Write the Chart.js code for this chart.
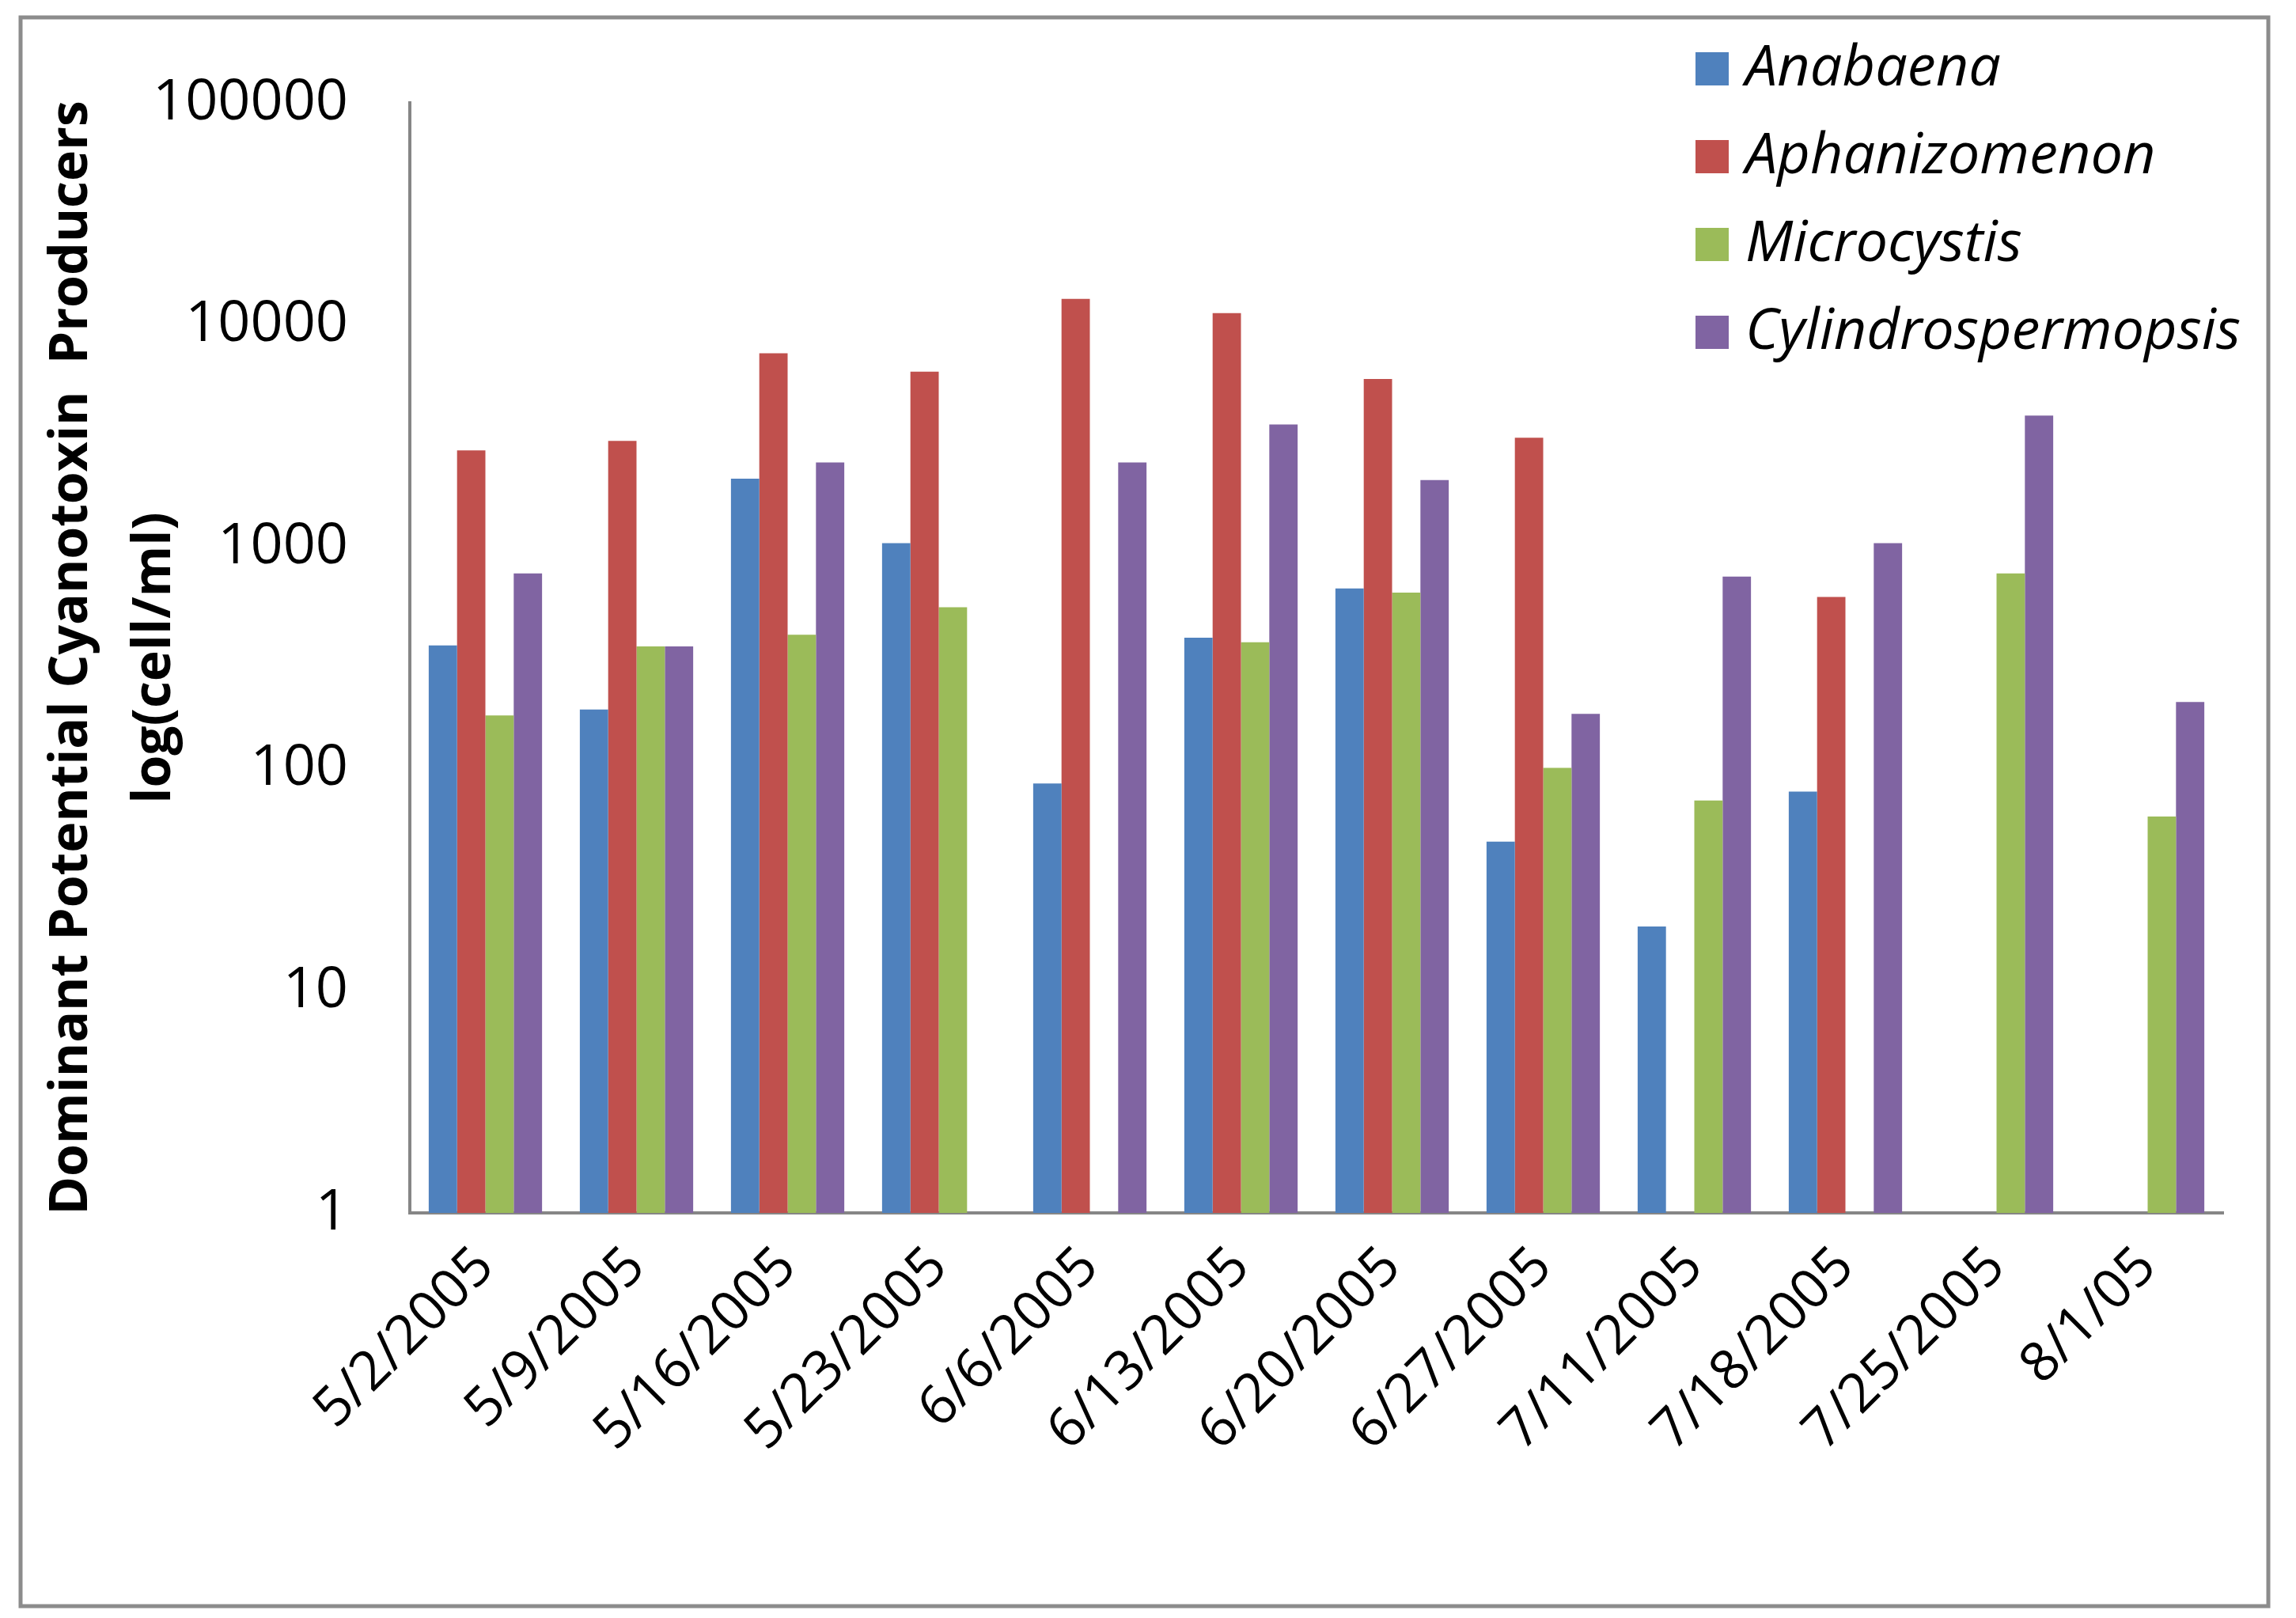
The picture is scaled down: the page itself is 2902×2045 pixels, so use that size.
<!DOCTYPE html>
<html>
<head>
<meta charset="utf-8">
<script src="https://cdn.jsdelivr.net/npm/chart.js@4.4.1/dist/chart.umd.min.js"></script>
<style>
  html, body { margin: 0; padding: 0; background: #fff; }
  #wrap { width: 2902px; height: 2045px; }
</style>
</head>
<body>
<div id="wrap"><canvas id="cyanoChart" width="2902" height="2045"></canvas></div>
<script>
// sampling dates
var dates = ['5/2/2005', '5/9/2005', '5/16/2005', '5/23/2005', '6/6/2005', '6/13/2005',
             '6/20/2005', '6/27/2005', '7/11/2005', '7/18/2005', '7/25/2005', '8/1/05'];

// cell/ml (null = not found)
var anabaena        = [360, 185, 2030, 1040, 86, 390, 650, 47, 19.5, 79, null, null];
var aphanizomenon   = [2720, 3000, 7450, 6150, 13100, 11300, 5700, 3100, null, 595, null, null];
var microcystis     = [174, 356, 402, 535, null, 372, 622, 101, 72, null, 760, 61];
var cylindrosperm   = [760, 356, 2400, null, 2400, 3560, 2000, 177, 735, 1040, 3900, 200];

var yTicks = [1, 10, 100, 1000, 10000, 100000];

var fontFamily = "'Open Sans', 'Noto Sans', sans-serif";

// outer grey frame round the whole figure
var framePlugin = {
  id: 'frame',
  beforeDraw: function (chart) {
    var c = chart.ctx;
    c.save();
    c.fillStyle = '#ffffff';
    c.fillRect(0, 0, chart.width, chart.height);
    c.strokeStyle = '#8c8c8c';
    c.lineWidth = 5;
    c.strokeRect(26, 22, 2841, 2008);
    c.restore();
  }
};

// legend stacked inside the plot, top right
var legendPlugin = {
  id: 'boxLegend',
  afterDraw: function (chart) {
    var c = chart.ctx;
    c.save();
    c.font = 'italic 72px ' + fontFamily;
    c.textBaseline = 'middle';
    chart.data.datasets.forEach(function (ds, i) {
      var y = 87 + i * 111;
      c.fillStyle = ds.backgroundColor;
      c.fillRect(2143, y - 21, 42, 42);
      c.fillStyle = '#000';
      c.fillText(ds.label, 2206, y);
    });
    c.restore();
  }
};

var ctx = document.getElementById('cyanoChart').getContext('2d');

var cyanoChart = new Chart(ctx, {
  type: 'bar',
  data: {
    labels: dates,
    datasets: [
      { label: 'Anabaena', data: anabaena, backgroundColor: '#4f81bd' },
      { label: 'Aphanizomenon', data: aphanizomenon, backgroundColor: '#c0504d' },
      { label: 'Microcystis', data: microcystis, backgroundColor: '#9bbb59' },
      { label: 'Cylindrospermopsis', data: cylindrosperm, backgroundColor: '#8064a2' }
    ]
  },
  options: {
    responsive: false,
    animation: false,
    devicePixelRatio: 1,
    layout: { padding: { left: 0, top: 130, right: 92, bottom: 0 } },
    datasets: {
      bar: { categoryPercentage: 0.75, barPercentage: 1.0 }
    },
    plugins: {
      legend: { display: false },
      tooltip: { enabled: false }
    },
    scales: {
      x: {
        grid: { display: false, drawTicks: false },
        border: { color: '#868686', width: 4 },
        ticks: {
          color: '#000',
          font: { family: fontFamily, size: 69 },
          minRotation: 45,
          maxRotation: 45,
          padding: 28,
          autoSkip: false
        },
        afterFit: function (scale) { scale.height = 512; }
      },
      y: {
        type: 'logarithmic',
        min: 1,
        max: 100000,
        grid: { display: false, drawTicks: false },
        border: { color: '#868686', width: 4 },
        afterBuildTicks: function (scale) {
          scale.ticks = yTicks.map(function (v) { return { value: v }; });
        },
        ticks: {
          color: '#000',
          font: { family: fontFamily, size: 72 },
          padding: 78,
          callback: function (value) { return String(value); }
        },
        title: {
          display: true,
          text: ['Dominant Potential Cyanotoxin  Producers', 'log(cell/ml)'],
          color: '#000',
          font: { family: fontFamily, size: 66, weight: 'bold', lineHeight: 1.6 },
          padding: { top: 38, bottom: 0 }
        },
        afterFit: function (scale) { scale.width = 518; }
      }
    }
  },
  plugins: [framePlugin, legendPlugin]
});
</script>
</body>
</html>
